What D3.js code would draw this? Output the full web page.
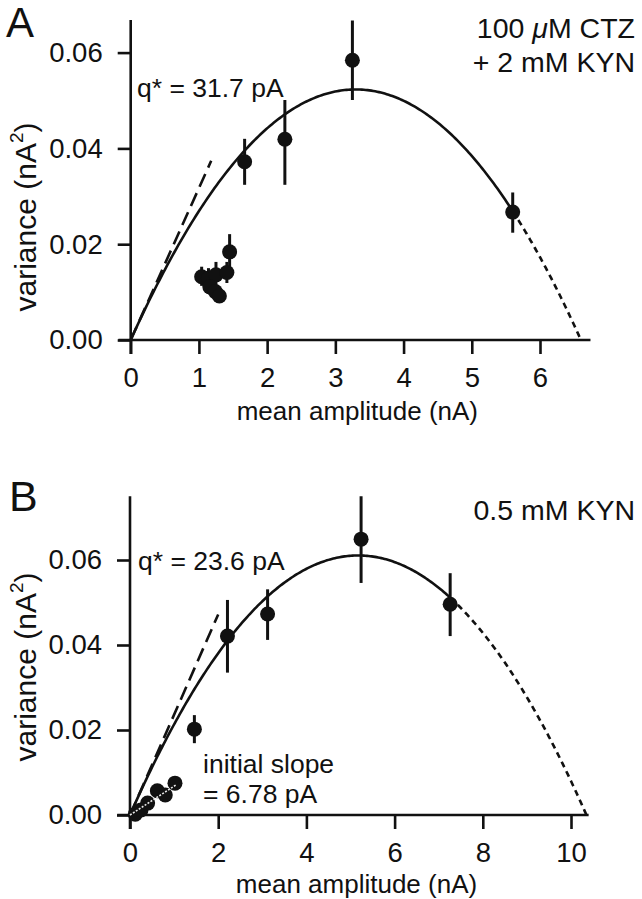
<!DOCTYPE html>
<html>
<head>
<meta charset="utf-8">
<script src="https://cdn.jsdelivr.net/npm/d3@7"></script>
<style>
  html, body { margin: 0; padding: 0; background: #fff; }
  svg { display: block; }
  text { font-family: "Liberation Sans", Arial, Helvetica, sans-serif; fill: #111; }
</style>
</head>
<body>
<svg id="chart" width="642" height="899"></svg>
<script>
// ---------- Data ----------
// Panel A: 100 µM CTZ + 2 mM KYN
const aMean   = [1.04, 1.14, 1.25, 1.16, 1.24, 1.30, 1.41, 1.45, 1.67, 2.26, 3.25, 5.60];
const aVar    = [0.0132, 0.0129, 0.0136, 0.0111, 0.0101, 0.0092, 0.0141, 0.0184, 0.0372, 0.0419, 0.0584, 0.0267];
const aErrLo  = [0.0113, 0.0109, 0.0110, 0.0095, 0.0088, 0.0082, 0.0119, 0.0147, 0.0324, 0.0324, 0.0501, 0.0224];
const aErrHi  = [0.0153, 0.0150, 0.0163, 0.0127, 0.0114, 0.0102, 0.0163, 0.0221, 0.0420, 0.0501, 0.0667, 0.0308];
const aXTicks = [0, 1, 2, 3, 4, 5, 6];
const aYTicks = [0.00, 0.02, 0.04, 0.06];
const aQ = 0.0317;      // q* = 31.7 pA (in nA)
const aImax = 6.60;     // x-intercept of parabola (N*q), nA
const aSolidEnd = 5.60;
const aSlopeEnd = 1.18;

// Panel B: 0.5 mM KYN
const bMean   = [0.12, 0.25, 0.40, 0.62, 0.80, 1.02, 1.46, 2.21, 3.12, 5.24, 7.26];
const bVar    = [0.0002, 0.0012, 0.0028, 0.0057, 0.0047, 0.0075, 0.0202, 0.0421, 0.0473, 0.0649, 0.0496];
const bErrLo  = [null, null, null, null, null, null, 0.0169, 0.0335, 0.0412, 0.0546, 0.0421];
const bErrHi  = [null, null, null, null, null, null, 0.0235, 0.0506, 0.0531, 0.0750, 0.0569];
const bXTicks = [0, 2, 4, 6, 8, 10];
const bYTicks = [0.00, 0.02, 0.04, 0.06];
const bQ = 0.0236;      // q* = 23.6 pA
const bImax = 10.35;
const bSolidEnd = 7.26;
const bSlopeEnd = 2.0;
const bInitSlope = 0.00678; // 6.78 pA
const bInitEnd = 1.05;

// ---------- Drawing ----------
const svg = d3.select("#chart");
svg.append("rect").attr("width", 642).attr("height", 899).attr("fill", "#fff");

function panel(cfg) {
  const g = svg.append("g");
  const x = d3.scaleLinear().domain([0, cfg.xMaxTick]).range(cfg.xRange);
  const y = d3.scaleLinear().domain([0, 0.06]).range(cfg.yRange);

  // axes
  const xAxis = d3.axisBottom(x).tickValues(cfg.xTicks).tickSize(14).tickSizeOuter(0).tickPadding(13)
    .tickFormat(d3.format("d"));
  const yAxis = d3.axisLeft(y).tickValues(cfg.yTicks).tickSize(13).tickSizeOuter(0).tickPadding(15)
    .tickFormat(d3.format(".2f"));
  const gx = g.append("g").attr("transform", `translate(0,${y(0)})`).call(xAxis);
  const gy = g.append("g").attr("transform", `translate(${x(0)},0)`).call(yAxis);
  [gx, gy].forEach(a => {
    a.select(".domain").remove();
    a.selectAll(".tick line").attr("stroke", "#111").attr("stroke-width", 2.6);
    a.selectAll(".tick text").attr("font-size", 27.5).attr("fill", "#111")
      .style("font-family", '"Liberation Sans", Arial, sans-serif');
  });
  // axis lines (extended)
  g.append("line").attr("x1", x(cfg.xLineMin)).attr("x2", x(cfg.xLineMax))
    .attr("y1", y(0)).attr("y2", y(0)).attr("stroke", "#111").attr("stroke-width", 2.6);
  g.append("line").attr("x1", x(0)).attr("x2", x(0))
    .attr("y1", y(0) + 14).attr("y2", y(cfg.yLineMax)).attr("stroke", "#111").attr("stroke-width", 2.6);

  // fitted parabola var = q*i - i^2/N
  const N = cfg.imax / cfg.q;
  const f = i => cfg.q * i - i * i / N;
  const line = d3.line().x(d => x(d)).y(d => y(f(d)));
  const solidPts = d3.range(0, cfg.solidEnd, cfg.solidEnd / 200).concat([cfg.solidEnd]);
  const dashPts = d3.range(cfg.solidEnd, cfg.imax, (cfg.imax - cfg.solidEnd) / 80).concat([cfg.imax]);
  g.append("path").attr("d", line(solidPts)).attr("fill", "none")
    .attr("stroke", "#111").attr("stroke-width", 2.6);
  g.append("path").attr("d", line(dashPts)).attr("fill", "none")
    .attr("stroke", "#111").attr("stroke-width", 2.6).attr("stroke-dasharray", "6,4.5");
  // initial slope (q*) dashed line
  g.append("line").attr("x1", x(0)).attr("y1", y(0))
    .attr("x2", x(cfg.slopeEnd)).attr("y2", y(cfg.q * cfg.slopeEnd))
    .attr("stroke", "#111").attr("stroke-width", 2.6).attr("stroke-dasharray", "14,7");

  // error bars
  cfg.mean.forEach((m, i) => {
    if (cfg.lo[i] == null) return;
    g.append("line").attr("x1", x(m)).attr("x2", x(m))
      .attr("y1", y(cfg.lo[i])).attr("y2", y(cfg.hi[i]))
      .attr("stroke", "#111").attr("stroke-width", 3);
  });
  // points
  g.selectAll("circle.pt").data(cfg.mean).enter().append("circle")
    .attr("class", "pt")
    .attr("cx", d => x(d)).attr("cy", (d, i) => y(cfg.vr[i]))
    .attr("r", 7.5).attr("fill", "#111");

  // axis titles
  g.append("text").attr("x", (x(0) + x(cfg.xMaxTick)) / 2 + cfg.titleDx).attr("y", cfg.xTitleY)
    .attr("text-anchor", "middle").attr("font-size", 26).text("mean amplitude (nA)");
  const yt = g.append("text").attr("transform", `translate(${cfg.yTitleX},${cfg.yTitleY}) rotate(-90)`)
    .attr("text-anchor", "middle").attr("font-size", 30);
  yt.append("tspan").text("variance (nA");
  yt.append("tspan").attr("font-size", 19).attr("dy", -13).text("2");
  yt.append("tspan").attr("dy", 13).text(")");
  return {g, x, y};
}

const A = panel({
  xMaxTick: 6, xRange: [130.7, 540], yRange: [340, 52.6],
  xTicks: aXTicks, yTicks: aYTicks, xLineMin: -0.18, xLineMax: 6.74, yLineMax: 0.0668,
  q: aQ, imax: aImax, solidEnd: aSolidEnd, slopeEnd: aSlopeEnd,
  mean: aMean, vr: aVar, lo: aErrLo, hi: aErrHi,
  xTitleY: 420, yTitleX: 36, yTitleY: 217, titleDx: 22
});
const B = panel({
  xMaxTick: 10, xRange: [130, 571], yRange: [815, 560],
  xTicks: bXTicks, yTicks: bYTicks, xLineMin: -0.29, xLineMax: 10.4, yLineMax: 0.075,
  q: bQ, imax: bImax, solidEnd: bSolidEnd, slopeEnd: bSlopeEnd,
  mean: bMean, vr: bVar, lo: bErrLo, hi: bErrHi,
  xTitleY: 893, yTitleX: 36, yTitleY: 667, titleDx: 6
});

// initial slope line through the small points (panel B), white dotted
B.g.append("line").attr("x1", B.x(0)).attr("y1", B.y(0))
  .attr("x2", B.x(bInitEnd)).attr("y2", B.y(bInitSlope * bInitEnd))
  .attr("stroke", "#e8e8e8").attr("stroke-width", 1.6).attr("stroke-dasharray", "2,1.5");

// annotations
function label(x, y, txt, size, anchor) {
  return svg.append("text").attr("x", x).attr("y", y).attr("font-size", size)
    .attr("text-anchor", anchor || "start").text(txt);
}
label(6, 37, "A", 42);
label(9, 511, "B", 43);
label(137, 97, "q* = 31.7 pA", 26.5);
const t1 = svg.append("text").attr("x", 635).attr("y", 38).attr("font-size", 28.5).attr("text-anchor", "end");
t1.append("tspan").text("100 ");
t1.append("tspan").attr("font-style", "italic").text("\u03bc");
t1.append("tspan").text("M CTZ");
label(635, 72, "+ 2 mM KYN", 28.5, "end");
label(635, 520, "0.5 mM KYN", 28.5, "end");
label(138, 570, "q* = 23.6 pA", 26.5);
label(203, 773, "initial slope", 26.5);
label(203, 803, "= 6.78 pA", 26.5);
</script>
</body>
</html>
